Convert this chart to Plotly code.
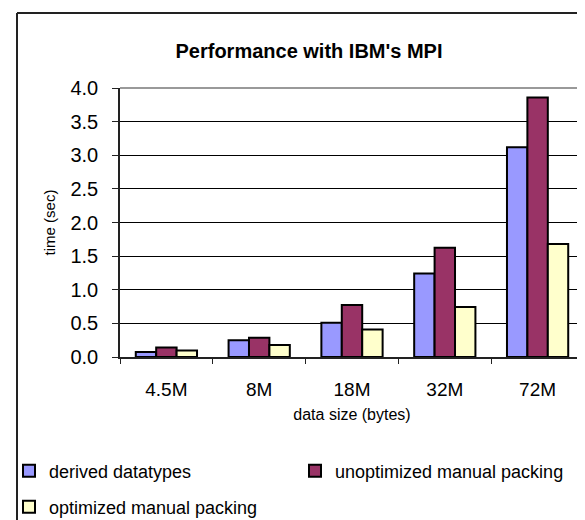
import plotly.graph_objects as go

# ---- data ----
categories = ["4.5M", "8M", "18M", "32M", "72M"]
derived_datatypes = [0.075, 0.25, 0.51, 1.24, 3.12]
unoptimized_packing = [0.14, 0.285, 0.775, 1.625, 3.86]
optimized_packing = [0.095, 0.18, 0.41, 0.745, 1.68]
series_names = ["derived datatypes", "unoptimized manual packing", "optimized manual packing"]
series_colors = ["#9999FF", "#993366", "#FFFFCC"]
y_tick_values = [0.0, 0.5, 1.0, 1.5, 2.0, 2.5, 3.0, 3.5, 4.0]
title_text = "Performance with IBM's MPI"
x_title = "data size (bytes)"
y_title = "time (sec)"

W, H = 585, 520
L, R, T, B = 112, 9, 80, 171
FONT = "Arial, Liberation Sans, sans-serif"

fig = go.Figure()
series_values = [derived_datatypes, unoptimized_packing, optimized_packing]
legend_ids = ["legend", "legend2", "legend3"]
for name, vals, col, lg in zip(series_names, series_values, series_colors, legend_ids):
    fig.add_trace(go.Bar(
        x=categories, y=vals, name=name, showlegend=True,
        marker=dict(color=col, line=dict(color="#000000", width=2)),
        legend=lg,
    ))

pw = W - L - R
ph = H - T - B

def px_x(p):
    return (p - L) / pw

def px_y(p):
    return (H - B - p) / ph

shapes = [
    # gray plot-area border (top and right)
    dict(type="line", xref="paper", yref="paper", x0=0, x1=1, y0=1, y1=1,
         line=dict(color="#999999", width=2)),
    dict(type="line", xref="paper", yref="paper", x0=1, x1=1, y0=0, y1=1,
         line=dict(color="#999999", width=2)),
    # outer chart border (top and left visible)
    dict(type="line", xref="paper", yref="paper", x0=px_x(9), x1=px_x(590),
         y0=px_y(5), y1=px_y(5), line=dict(color="#222222", width=2)),
    dict(type="line", xref="paper", yref="paper", x0=px_x(9), x1=px_x(9),
         y0=px_y(5), y1=px_y(525), line=dict(color="#222222", width=2)),
]

def legend_box(x_px, y_px):
    return dict(orientation="h", xref="container", yref="container",
                x=x_px / W, xanchor="left", y=1 - y_px / H, yanchor="middle",
                font=dict(size=18, family=FONT, color="black"),
                bgcolor="rgba(0,0,0,0)", itemclick=False, itemdoubleclick=False)

fig.update_layout(
    width=W, height=H,
    showlegend=True,
    margin=dict(l=L, r=R, t=T, b=B, autoexpand=False),
    paper_bgcolor="white", plot_bgcolor="white",
    font=dict(family=FONT, color="black"),
    title=dict(text="<b>" + title_text + "</b>", x=301 / W, xanchor="center",
               y=1 - 43 / H, yanchor="middle", xref="container", yref="container",
               font=dict(size=20, family=FONT, color="black")),
    barmode="group", bargap=0.34, bargroupgap=0,
    shapes=shapes,
    legend=legend_box(1, 463),
    legend2=legend_box(287, 463),
    legend3=legend_box(1, 499),
    xaxis=dict(type="category", showline=True, linecolor="#222222", linewidth=1.5,
               ticks="outside", tickson="boundaries", ticklen=5, tickcolor="#222222",
               tickwidth=1, ticklabelstandoff=14, showgrid=False,
               tickfont=dict(size=19, family=FONT),
               title=dict(text=x_title, font=dict(size=16, family=FONT), standoff=10)),
    yaxis=dict(range=[0, 4], tickvals=y_tick_values, tickformat=".1f",
               showline=True, linecolor="#222222", linewidth=1.5,
               ticks="outside", ticklen=6, tickcolor="#222222", tickwidth=1,
               ticklabelstandoff=10,
               showgrid=True, gridcolor="#000000", gridwidth=1, zeroline=False,
               tickfont=dict(size=20, family=FONT),
               title=dict(text=y_title, font=dict(size=15, family=FONT), standoff=11)),
)

fig.write_html("out.html")
